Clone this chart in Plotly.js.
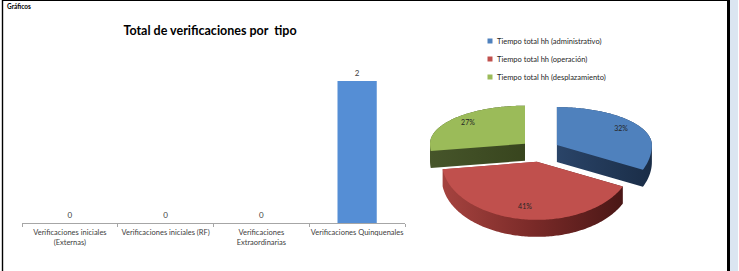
<!DOCTYPE html>
<html>
<head>
<meta charset="utf-8">
<script src="https://cdn.plot.ly/plotly-3.0.1.min.js"></script>
<style>html,body{margin:0;padding:0;background:#fff;}#chart{width:739px;height:271px;}</style>
</head>
<body>
<div id="chart"></div>
<script>
// ---- data ----
const categories = [
  'Verificaciones iniciales<br>(Externas)',
  'Verificaciones iniciales (RF)',
  'Verificaciones<br>Extraordinarias',
  'Verificaciones Quinquenales'
];
const counts = [0, 0, 0, 2];
const pieLabels = [
  'Tiempo total hh (administrativo)',
  'Tiempo total hh (operación)',
  'Tiempo total hh (desplazamiento)'
];
const pieValues = [32, 41, 27];

// ---- styles ----
const FONT = 'Lato, "Open Sans", sans-serif';
const topColors = ['#4f81bd', '#c0504d', '#9bbb59'];
const sideColors = ['#1f3552', '#7a2a28', '#3d4a22'];
const sideGradients = [
  [[0, '#2a4468'], [1, '#1a2d47']],
  [[0, '#a5433f'], [0.5, '#7a2a28'], [1, '#4a1716']],
  [[0, '#46552a'], [1, '#38451e']]
];
// pie geometry in pixel units (xaxis2/yaxis2 map 1:1 to pixels)
const pie = {cx: 540, cy: 151, rx: 95, ryTop: 38, ryBot: 58, depth: 17, explode: 20, labelFrac: 0.8};

function pt(ax, ay, deg, f) {
  const t = deg * Math.PI / 180;
  const c = Math.cos(t), s = Math.sin(t);
  const ry = c > 0 ? pie.ryTop : pie.ryBot;
  return [ax + f * pie.rx * s, ay - f * ry * c];
}
function hull(points) {
  const p = points.slice().sort((a, b) => a[0] - b[0] || a[1] - b[1]);
  const cross = (o, a, b) => (a[0]-o[0])*(b[1]-o[1]) - (a[1]-o[1])*(b[0]-o[0]);
  const lower = [], upper = [];
  for (const q of p) { while (lower.length >= 2 && cross(lower[lower.length-2], lower[lower.length-1], q) <= 0) lower.pop(); lower.push(q); }
  for (let i = p.length - 1; i >= 0; i--) { const q = p[i]; while (upper.length >= 2 && cross(upper[upper.length-2], upper[upper.length-1], q) <= 0) upper.pop(); upper.push(q); }
  upper.pop(); lower.pop();
  return lower.concat(upper);
}

const total = pieValues.reduce((a, b) => a + b, 0);
const slices = [];
let acc = 0;
pieValues.forEach((v, i) => {
  const a0 = acc / total * 360, a1 = (acc + v) / total * 360;
  acc += v;
  const mid = (a0 + a1) / 2, tm = mid * Math.PI / 180;
  const ax = pie.cx + pie.explode * Math.sin(tm);
  const ay = pie.cy - pie.explode * 0.55 * Math.cos(tm);
  const poly = [[ax, ay]];
  const n = Math.max(8, Math.round(a1 - a0));
  for (let k = 0; k <= n; k++) poly.push(pt(ax, ay, a0 + (a1 - a0) * k / n, 1));
  const side = hull(poly.concat(poly.map(q => [q[0], q[1] + pie.depth])));
  const lab = pt(ax, ay, mid, pie.labelFrac);
  slices.push({i, poly, side, lab, pct: Math.round(v / total * 100) + '%'});
});

const traces = [];
// bar chart
traces.push({
  type: 'bar', x: categories, y: counts, xaxis: 'x', yaxis: 'y',
  marker: {color: '#558ed5'},
  text: counts.map(String), textposition: 'outside', cliponaxis: false,
  textfont: {family: FONT, size: 8, color: '#404040'},
  hoverinfo: 'skip', showlegend: false
});
// pie (back slices first, front slice last)
const order = [0, 2, 1];
order.forEach(i => {
  const s = slices[i];
  const sc = s.side.concat([s.side[0]]);
  traces.push({
    type: 'scatter', mode: 'none', fill: 'toself', xaxis: 'x2', yaxis: 'y2',
    x: sc.map(q => q[0]), y: sc.map(q => q[1]),
    fillcolor: sideColors[i],
    fillgradient: {type: 'horizontal', colorscale: sideGradients[i]},
    hoverinfo: 'skip', showlegend: false
  });
  const pc = s.poly.concat([s.poly[0]]);
  traces.push({
    type: 'scatter', mode: 'none', fill: 'toself', xaxis: 'x2', yaxis: 'y2',
    x: pc.map(q => q[0]), y: pc.map(q => q[1]),
    fillcolor: topColors[i], hoverinfo: 'skip', showlegend: false
  });
});
traces.push({
  type: 'scatter', mode: 'text', xaxis: 'x2', yaxis: 'y2',
  x: slices.map(s => s.lab[0]), y: slices.map(s => s.lab[1]),
  text: slices.map(s => s.pct), textfont: {family: FONT, size: 7, color: '#262626'},
  hoverinfo: 'skip', showlegend: false, cliponaxis: false
});

const W = 739, H = 271;
const shapes = [
  {type: 'line', xref: 'x2', yref: 'y2', x0: 2, x1: 728, y0: 0.5, y1: 0.5, line: {color: '#000', width: 1.2}},
  {type: 'line', xref: 'x2', yref: 'y2', x0: 2.5, x1: 2.5, y0: 0, y1: 271, line: {color: '#000', width: 1.4}},
  {type: 'rect', xref: 'x2', yref: 'y2', x0: 727, x1: 730, y0: 0, y1: 271, fillcolor: '#000', line: {width: 0}},
  {type: 'rect', xref: 'x2', yref: 'y2', x0: 730, x1: 738, y0: 0, y1: 271, fillcolor: '#dbe5f1', line: {width: 0}}
];
const annotations = [
  {xref: 'x2', yref: 'y2', x: 5, y: 6, text: '<b>Gráficos</b>', showarrow: false, xanchor: 'left', yanchor: 'middle',
   font: {family: FONT, size: 6.5, color: '#000'}}
];
const legendY = [41, 59, 77];
pieLabels.forEach((lab, i) => {
  shapes.push({type: 'rect', xref: 'x2', yref: 'y2', x0: 487.5, x1: 492.5, y0: legendY[i] - 2.5, y1: legendY[i] + 2.5,
    fillcolor: topColors[i], line: {width: 0}});
  annotations.push({xref: 'x2', yref: 'y2', x: 495, y: legendY[i], text: lab, showarrow: false,
    xanchor: 'left', yanchor: 'middle', font: {family: FONT, size: 7.5, color: '#262626'}});
});

const layout = {
  width: W, height: H,
  margin: {l: 0, r: 0, t: 0, b: 0, pad: 0},
  paper_bgcolor: '#fff', plot_bgcolor: 'rgba(0,0,0,0)',
  showlegend: false,
  bargap: 0.59,
  title: {text: 'Total de verificaciones por\u00a0 tipo', x: 210 / W, xanchor: 'center', y: 1 - 31 / H, yanchor: 'middle',
    font: {family: FONT, size: 12.5, color: '#000', weight: 'bold'}},
  xaxis: {domain: [22 / W, 405 / W], type: 'category', showline: true, linecolor: '#a6a6a6', linewidth: 1,
    ticks: 'outside', tickson: 'boundaries', ticklen: 3, tickcolor: '#a6a6a6', tickangle: 0, ticklabelstandoff: 2,
    tickfont: {family: FONT, size: 7.5, color: '#404040'}, showgrid: false, zeroline: false, fixedrange: true, anchor: 'y'},
  yaxis: {domain: [(H - 223) / H, (H - 81) / H], range: [0, 2], visible: false, fixedrange: true, anchor: 'x'},
  xaxis2: {domain: [0, 1], range: [0, W], visible: false, fixedrange: true, anchor: 'y2'},
  yaxis2: {domain: [0, 1], range: [H, 0], visible: false, fixedrange: true, anchor: 'x2'},
  shapes: shapes, annotations: annotations
};
Plotly.newPlot('chart', traces, layout, {displayModeBar: false, staticPlot: true});
</script>
</body>
</html>
